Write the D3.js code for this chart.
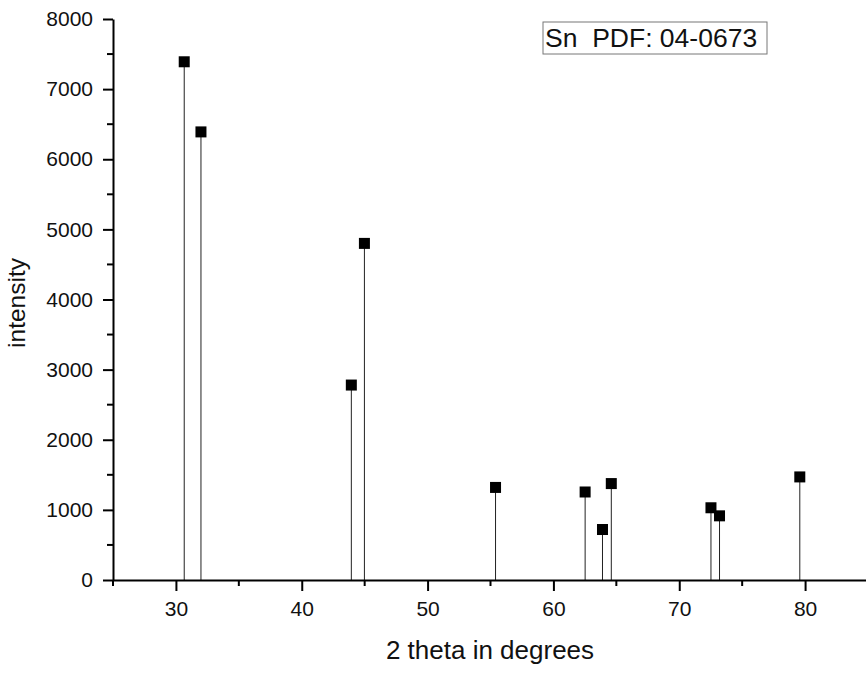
<!DOCTYPE html>
<html>
<head>
<meta charset="utf-8">
<script src="https://cdn.jsdelivr.net/npm/d3@7"></script>
<style>
  body { margin: 0; background: #fff; }
  text { font-family: Arial, "Liberation Sans", sans-serif; fill: #111; }
</style>
</head>
<body>
<svg id="chart"></svg>
<script>
// peak positions (2 theta) and intensities
const twoTheta = [30.66, 31.99, 43.94, 44.98, 55.4, 62.52, 63.9, 64.6, 72.52, 73.2, 79.58];
const intensity = [7390, 6390, 2780, 4800, 1320, 1255, 720, 1375, 1030, 915, 1470];

const xTicks = [30, 40, 50, 60, 70, 80];
const xMinor = [25, 35, 45, 55, 65, 75, 85];
const yTicks = [0, 1000, 2000, 3000, 4000, 5000, 6000, 7000, 8000];
const yMinor = [500, 1500, 2500, 3500, 4500, 5500, 6500, 7500];

const legendText = 'Sn\u00a0\u00a0PDF: 04-0673';

const margin = {top: 19, right: 0, bottom: 95, left: 113};
const width = 755, height = 561;

const svg = d3.select('#chart')
    .attr('width', 866)
    .attr('height', 675);

const g = svg.append('g')
    .attr('transform', 'translate(' + margin.left + ',' + margin.top + ')');

const x = d3.scaleLinear().domain([25, 85]).range([0, width]);
const y = d3.scaleLinear().domain([0, 8000]).range([height, 0]);

// stems
g.selectAll('line.stem')
    .data(twoTheta)
    .enter().append('line')
    .attr('class', 'stem')
    .attr('x1', d => x(d)).attr('x2', d => x(d))
    .attr('y1', y(0))
    .attr('y2', (d, i) => y(intensity[i]))
    .attr('stroke', '#222')
    .attr('stroke-width', 1);

// square markers
const sq = 11;
g.selectAll('rect.pt')
    .data(twoTheta)
    .enter().append('rect')
    .attr('class', 'pt')
    .attr('x', d => x(d) - sq / 2)
    .attr('y', (d, i) => y(intensity[i]) - sq / 2)
    .attr('width', sq).attr('height', sq)
    .attr('fill', '#000');

// axes
const xAxis = d3.axisBottom(x).tickValues(xTicks).tickFormat(d3.format('d'))
    .tickSize(11).tickSizeOuter(0).tickPadding(10);
const yAxis = d3.axisLeft(y).tickValues(yTicks).tickFormat(d3.format('d'))
    .tickSize(10).tickSizeOuter(0).tickPadding(10);

const xg = g.append('g')
    .attr('transform', 'translate(0,' + height + ')')
    .call(xAxis);
const yg = g.append('g').call(yAxis);

[xg, yg].forEach(a => {
    a.select('.domain').attr('stroke', '#000').attr('stroke-width', 2);
    a.selectAll('.tick line').attr('stroke', '#000').attr('stroke-width', 2);
    a.selectAll('.tick text').style('font-size', '21px').attr('fill', '#111');
});

// minor ticks
xg.selectAll('line.minor')
    .data(xMinor)
    .enter().append('line')
    .attr('class', 'minor')
    .attr('x1', d => x(d)).attr('x2', d => x(d))
    .attr('y1', 0).attr('y2', 6)
    .attr('stroke', '#000').attr('stroke-width', 2);

yg.selectAll('line.minor')
    .data(yMinor)
    .enter().append('line')
    .attr('class', 'minor')
    .attr('y1', d => y(d)).attr('y2', d => y(d))
    .attr('x1', 0).attr('x2', -6)
    .attr('stroke', '#000').attr('stroke-width', 2);

// axis titles
svg.append('text')
    .attr('x', 490).attr('y', 659)
    .attr('text-anchor', 'middle')
    .style('font-size', '26px')
    .text('2 theta in degrees');

svg.append('text')
    .attr('transform', 'translate(25,303) rotate(-90)')
    .attr('text-anchor', 'middle')
    .style('font-size', '24.5px')
    .text('intensity');

// legend box
const lg = svg.append('g').attr('transform', 'translate(543,22)');
lg.append('rect')
    .attr('width', 224).attr('height', 32)
    .attr('fill', '#fff')
    .attr('stroke', '#777').attr('stroke-width', 1);
lg.append('text')
    .attr('x', 2).attr('y', 24.5)
    .style('font-size', '26.5px')
    .text(legendText);
</script>
</body>
</html>
